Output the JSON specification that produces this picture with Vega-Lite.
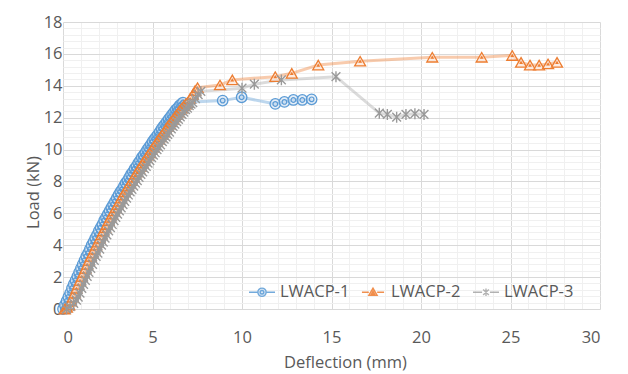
{
  "width": 537,
  "height": 287,
  "autosize": {"type": "none"},
  "padding": {"left": 63, "top": 22, "right": 28, "bottom": 65},
  "background": "white",
  "config": {
    "view": {"stroke": null},
    "font": "Open Sans",
    "axis": {"labelColor": "#595959", "titleColor": "#595959", "labelFontSize": 16.5, "titleFontSize": 16.5, "titleFontWeight": "normal", "ticks": false, "domain": false, "grid": true}
  },
  "data": {"values": [
    {"series":"LWACP-1","deflection":0.0,"load":0},
    {"series":"LWACP-1","deflection":0.1,"load":0.25},
    {"series":"LWACP-1","deflection":0.2,"load":0.5},
    {"series":"LWACP-1","deflection":0.3,"load":0.75},
    {"series":"LWACP-1","deflection":0.4,"load":1.0},
    {"series":"LWACP-1","deflection":0.5,"load":1.3},
    {"series":"LWACP-1","deflection":0.6,"load":1.55},
    {"series":"LWACP-1","deflection":0.7,"load":1.8},
    {"series":"LWACP-1","deflection":0.8,"load":2.05},
    {"series":"LWACP-1","deflection":0.9,"load":2.3},
    {"series":"LWACP-1","deflection":1.0,"load":2.55},
    {"series":"LWACP-1","deflection":1.1,"load":2.8},
    {"series":"LWACP-1","deflection":1.2,"load":3.05},
    {"series":"LWACP-1","deflection":1.3,"load":3.3},
    {"series":"LWACP-1","deflection":1.4,"load":3.5},
    {"series":"LWACP-1","deflection":1.5,"load":3.75},
    {"series":"LWACP-1","deflection":1.6,"load":4.0},
    {"series":"LWACP-1","deflection":1.7,"load":4.2},
    {"series":"LWACP-1","deflection":1.8,"load":4.45},
    {"series":"LWACP-1","deflection":1.9,"load":4.65},
    {"series":"LWACP-1","deflection":2.0,"load":4.9},
    {"series":"LWACP-1","deflection":2.1,"load":5.1},
    {"series":"LWACP-1","deflection":2.2,"load":5.3},
    {"series":"LWACP-1","deflection":2.3,"load":5.55},
    {"series":"LWACP-1","deflection":2.4,"load":5.75},
    {"series":"LWACP-1","deflection":2.5,"load":5.95},
    {"series":"LWACP-1","deflection":2.6,"load":6.15},
    {"series":"LWACP-1","deflection":2.7,"load":6.35},
    {"series":"LWACP-1","deflection":2.8,"load":6.55},
    {"series":"LWACP-1","deflection":2.9,"load":6.75},
    {"series":"LWACP-1","deflection":3.0,"load":6.95},
    {"series":"LWACP-1","deflection":3.1,"load":7.15},
    {"series":"LWACP-1","deflection":3.2,"load":7.35},
    {"series":"LWACP-1","deflection":3.3,"load":7.5},
    {"series":"LWACP-1","deflection":3.4,"load":7.7},
    {"series":"LWACP-1","deflection":3.5,"load":7.9},
    {"series":"LWACP-1","deflection":3.6,"load":8.05},
    {"series":"LWACP-1","deflection":3.7,"load":8.25},
    {"series":"LWACP-1","deflection":3.8,"load":8.45},
    {"series":"LWACP-1","deflection":3.9,"load":8.6},
    {"series":"LWACP-1","deflection":4.0,"load":8.8},
    {"series":"LWACP-1","deflection":4.1,"load":8.95},
    {"series":"LWACP-1","deflection":4.2,"load":9.15},
    {"series":"LWACP-1","deflection":4.3,"load":9.3},
    {"series":"LWACP-1","deflection":4.4,"load":9.5},
    {"series":"LWACP-1","deflection":4.5,"load":9.65},
    {"series":"LWACP-1","deflection":4.6,"load":9.8},
    {"series":"LWACP-1","deflection":4.7,"load":10.0},
    {"series":"LWACP-1","deflection":4.8,"load":10.15},
    {"series":"LWACP-1","deflection":4.9,"load":10.3},
    {"series":"LWACP-1","deflection":5.0,"load":10.5},
    {"series":"LWACP-1","deflection":5.1,"load":10.65},
    {"series":"LWACP-1","deflection":5.2,"load":10.8},
    {"series":"LWACP-1","deflection":5.3,"load":10.95},
    {"series":"LWACP-1","deflection":5.4,"load":11.1},
    {"series":"LWACP-1","deflection":5.5,"load":11.3},
    {"series":"LWACP-1","deflection":5.6,"load":11.45},
    {"series":"LWACP-1","deflection":5.7,"load":11.6},
    {"series":"LWACP-1","deflection":5.8,"load":11.75},
    {"series":"LWACP-1","deflection":5.9,"load":11.9},
    {"series":"LWACP-1","deflection":6.0,"load":12.05},
    {"series":"LWACP-1","deflection":6.1,"load":12.2},
    {"series":"LWACP-1","deflection":6.2,"load":12.35},
    {"series":"LWACP-1","deflection":6.3,"load":12.5},
    {"series":"LWACP-1","deflection":6.4,"load":12.6},
    {"series":"LWACP-1","deflection":6.5,"load":12.75},
    {"series":"LWACP-1","deflection":6.6,"load":12.85},
    {"series":"LWACP-1","deflection":6.7,"load":12.95},
    {"series":"LWACP-1","deflection":8.92,"load":13.07},
    {"series":"LWACP-1","deflection":9.98,"load":13.28},
    {"series":"LWACP-1","deflection":11.86,"load":12.86},
    {"series":"LWACP-1","deflection":12.37,"load":12.99},
    {"series":"LWACP-1","deflection":12.87,"load":13.11},
    {"series":"LWACP-1","deflection":13.37,"load":13.11},
    {"series":"LWACP-1","deflection":13.89,"load":13.15},
    {"series":"LWACP-2","deflection":0.1,"load":0},
    {"series":"LWACP-2","deflection":0.22,"load":0.1},
    {"series":"LWACP-2","deflection":0.35,"load":0.25},
    {"series":"LWACP-2","deflection":0.45,"load":0.5},
    {"series":"LWACP-2","deflection":0.55,"load":0.75},
    {"series":"LWACP-2","deflection":0.65,"load":1.0},
    {"series":"LWACP-2","deflection":0.75,"load":1.3},
    {"series":"LWACP-2","deflection":0.85,"load":1.55},
    {"series":"LWACP-2","deflection":0.95,"load":1.8},
    {"series":"LWACP-2","deflection":1.05,"load":2.05},
    {"series":"LWACP-2","deflection":1.15,"load":2.3},
    {"series":"LWACP-2","deflection":1.25,"load":2.55},
    {"series":"LWACP-2","deflection":1.35,"load":2.8},
    {"series":"LWACP-2","deflection":1.45,"load":3.05},
    {"series":"LWACP-2","deflection":1.55,"load":3.3},
    {"series":"LWACP-2","deflection":1.65,"load":3.5},
    {"series":"LWACP-2","deflection":1.75,"load":3.75},
    {"series":"LWACP-2","deflection":1.85,"load":4.0},
    {"series":"LWACP-2","deflection":1.95,"load":4.2},
    {"series":"LWACP-2","deflection":2.05,"load":4.45},
    {"series":"LWACP-2","deflection":2.15,"load":4.65},
    {"series":"LWACP-2","deflection":2.25,"load":4.9},
    {"series":"LWACP-2","deflection":2.35,"load":5.1},
    {"series":"LWACP-2","deflection":2.45,"load":5.3},
    {"series":"LWACP-2","deflection":2.55,"load":5.55},
    {"series":"LWACP-2","deflection":2.65,"load":5.75},
    {"series":"LWACP-2","deflection":2.75,"load":5.95},
    {"series":"LWACP-2","deflection":2.85,"load":6.15},
    {"series":"LWACP-2","deflection":2.95,"load":6.35},
    {"series":"LWACP-2","deflection":3.05,"load":6.55},
    {"series":"LWACP-2","deflection":3.15,"load":6.75},
    {"series":"LWACP-2","deflection":3.25,"load":6.95},
    {"series":"LWACP-2","deflection":3.35,"load":7.15},
    {"series":"LWACP-2","deflection":3.45,"load":7.35},
    {"series":"LWACP-2","deflection":3.55,"load":7.5},
    {"series":"LWACP-2","deflection":3.65,"load":7.7},
    {"series":"LWACP-2","deflection":3.75,"load":7.9},
    {"series":"LWACP-2","deflection":3.85,"load":8.05},
    {"series":"LWACP-2","deflection":3.95,"load":8.25},
    {"series":"LWACP-2","deflection":4.05,"load":8.45},
    {"series":"LWACP-2","deflection":4.15,"load":8.6},
    {"series":"LWACP-2","deflection":4.25,"load":8.8},
    {"series":"LWACP-2","deflection":4.35,"load":8.95},
    {"series":"LWACP-2","deflection":4.45,"load":9.15},
    {"series":"LWACP-2","deflection":4.55,"load":9.3},
    {"series":"LWACP-2","deflection":4.65,"load":9.5},
    {"series":"LWACP-2","deflection":4.75,"load":9.65},
    {"series":"LWACP-2","deflection":4.85,"load":9.8},
    {"series":"LWACP-2","deflection":4.95,"load":10.0},
    {"series":"LWACP-2","deflection":5.05,"load":10.15},
    {"series":"LWACP-2","deflection":5.15,"load":10.3},
    {"series":"LWACP-2","deflection":5.25,"load":10.5},
    {"series":"LWACP-2","deflection":5.35,"load":10.65},
    {"series":"LWACP-2","deflection":5.45,"load":10.8},
    {"series":"LWACP-2","deflection":5.55,"load":10.95},
    {"series":"LWACP-2","deflection":5.65,"load":11.1},
    {"series":"LWACP-2","deflection":5.75,"load":11.3},
    {"series":"LWACP-2","deflection":5.85,"load":11.45},
    {"series":"LWACP-2","deflection":5.95,"load":11.6},
    {"series":"LWACP-2","deflection":6.05,"load":11.75},
    {"series":"LWACP-2","deflection":6.15,"load":11.9},
    {"series":"LWACP-2","deflection":6.25,"load":12.05},
    {"series":"LWACP-2","deflection":6.35,"load":12.2},
    {"series":"LWACP-2","deflection":6.45,"load":12.35},
    {"series":"LWACP-2","deflection":6.55,"load":12.5},
    {"series":"LWACP-2","deflection":6.65,"load":12.6},
    {"series":"LWACP-2","deflection":6.75,"load":12.75},
    {"series":"LWACP-2","deflection":6.85,"load":12.85},
    {"series":"LWACP-2","deflection":6.95,"load":12.95},
    {"series":"LWACP-2","deflection":7.1,"load":13.2},
    {"series":"LWACP-2","deflection":7.25,"load":13.45},
    {"series":"LWACP-2","deflection":7.38,"load":13.7},
    {"series":"LWACP-2","deflection":7.52,"load":13.88},
    {"series":"LWACP-2","deflection":8.77,"load":14.05},
    {"series":"LWACP-2","deflection":9.46,"load":14.37},
    {"series":"LWACP-2","deflection":11.86,"load":14.57},
    {"series":"LWACP-2","deflection":12.78,"load":14.78},
    {"series":"LWACP-2","deflection":14.26,"load":15.3},
    {"series":"LWACP-2","deflection":16.6,"load":15.54},
    {"series":"LWACP-2","deflection":20.63,"load":15.79},
    {"series":"LWACP-2","deflection":23.39,"load":15.79},
    {"series":"LWACP-2","deflection":25.1,"load":15.9},
    {"series":"LWACP-2","deflection":25.59,"load":15.47},
    {"series":"LWACP-2","deflection":26.09,"load":15.3},
    {"series":"LWACP-2","deflection":26.6,"load":15.3},
    {"series":"LWACP-2","deflection":27.1,"load":15.37},
    {"series":"LWACP-2","deflection":27.6,"load":15.47},
    {"series":"LWACP-3","deflection":0.2,"load":0},
    {"series":"LWACP-3","deflection":0.4,"load":0.15},
    {"series":"LWACP-3","deflection":0.6,"load":0.35},
    {"series":"LWACP-3","deflection":0.75,"load":0.55},
    {"series":"LWACP-3","deflection":0.85,"load":0.75},
    {"series":"LWACP-3","deflection":0.95,"load":1.0},
    {"series":"LWACP-3","deflection":1.05,"load":1.3},
    {"series":"LWACP-3","deflection":1.15,"load":1.55},
    {"series":"LWACP-3","deflection":1.25,"load":1.8},
    {"series":"LWACP-3","deflection":1.35,"load":2.05},
    {"series":"LWACP-3","deflection":1.45,"load":2.3},
    {"series":"LWACP-3","deflection":1.55,"load":2.55},
    {"series":"LWACP-3","deflection":1.65,"load":2.8},
    {"series":"LWACP-3","deflection":1.75,"load":3.05},
    {"series":"LWACP-3","deflection":1.85,"load":3.3},
    {"series":"LWACP-3","deflection":1.95,"load":3.5},
    {"series":"LWACP-3","deflection":2.05,"load":3.75},
    {"series":"LWACP-3","deflection":2.15,"load":4.0},
    {"series":"LWACP-3","deflection":2.25,"load":4.2},
    {"series":"LWACP-3","deflection":2.35,"load":4.45},
    {"series":"LWACP-3","deflection":2.45,"load":4.65},
    {"series":"LWACP-3","deflection":2.55,"load":4.9},
    {"series":"LWACP-3","deflection":2.65,"load":5.1},
    {"series":"LWACP-3","deflection":2.75,"load":5.3},
    {"series":"LWACP-3","deflection":2.85,"load":5.55},
    {"series":"LWACP-3","deflection":2.95,"load":5.75},
    {"series":"LWACP-3","deflection":3.05,"load":5.95},
    {"series":"LWACP-3","deflection":3.15,"load":6.15},
    {"series":"LWACP-3","deflection":3.25,"load":6.35},
    {"series":"LWACP-3","deflection":3.35,"load":6.55},
    {"series":"LWACP-3","deflection":3.45,"load":6.75},
    {"series":"LWACP-3","deflection":3.55,"load":6.95},
    {"series":"LWACP-3","deflection":3.65,"load":7.15},
    {"series":"LWACP-3","deflection":3.75,"load":7.35},
    {"series":"LWACP-3","deflection":3.85,"load":7.5},
    {"series":"LWACP-3","deflection":3.95,"load":7.7},
    {"series":"LWACP-3","deflection":4.05,"load":7.9},
    {"series":"LWACP-3","deflection":4.15,"load":8.05},
    {"series":"LWACP-3","deflection":4.25,"load":8.25},
    {"series":"LWACP-3","deflection":4.35,"load":8.45},
    {"series":"LWACP-3","deflection":4.45,"load":8.6},
    {"series":"LWACP-3","deflection":4.55,"load":8.8},
    {"series":"LWACP-3","deflection":4.65,"load":8.95},
    {"series":"LWACP-3","deflection":4.75,"load":9.15},
    {"series":"LWACP-3","deflection":4.85,"load":9.3},
    {"series":"LWACP-3","deflection":4.95,"load":9.5},
    {"series":"LWACP-3","deflection":5.05,"load":9.65},
    {"series":"LWACP-3","deflection":5.15,"load":9.8},
    {"series":"LWACP-3","deflection":5.25,"load":10.0},
    {"series":"LWACP-3","deflection":5.35,"load":10.15},
    {"series":"LWACP-3","deflection":5.45,"load":10.3},
    {"series":"LWACP-3","deflection":5.55,"load":10.5},
    {"series":"LWACP-3","deflection":5.65,"load":10.65},
    {"series":"LWACP-3","deflection":5.75,"load":10.8},
    {"series":"LWACP-3","deflection":5.85,"load":10.95},
    {"series":"LWACP-3","deflection":5.95,"load":11.1},
    {"series":"LWACP-3","deflection":6.05,"load":11.3},
    {"series":"LWACP-3","deflection":6.15,"load":11.45},
    {"series":"LWACP-3","deflection":6.25,"load":11.6},
    {"series":"LWACP-3","deflection":6.35,"load":11.75},
    {"series":"LWACP-3","deflection":6.45,"load":11.9},
    {"series":"LWACP-3","deflection":6.55,"load":12.05},
    {"series":"LWACP-3","deflection":6.65,"load":12.2},
    {"series":"LWACP-3","deflection":6.75,"load":12.35},
    {"series":"LWACP-3","deflection":6.85,"load":12.5},
    {"series":"LWACP-3","deflection":6.95,"load":12.6},
    {"series":"LWACP-3","deflection":7.05,"load":12.75},
    {"series":"LWACP-3","deflection":7.15,"load":12.85},
    {"series":"LWACP-3","deflection":7.25,"load":12.95},
    {"series":"LWACP-3","deflection":7.4,"load":13.2},
    {"series":"LWACP-3","deflection":7.55,"load":13.45},
    {"series":"LWACP-3","deflection":7.7,"load":13.65},
    {"series":"LWACP-3","deflection":10.0,"load":13.85},
    {"series":"LWACP-3","deflection":10.69,"load":14.1},
    {"series":"LWACP-3","deflection":12.2,"load":14.37},
    {"series":"LWACP-3","deflection":15.25,"load":14.57},
    {"series":"LWACP-3","deflection":17.67,"load":12.28},
    {"series":"LWACP-3","deflection":18.12,"load":12.2},
    {"series":"LWACP-3","deflection":18.64,"load":12.03},
    {"series":"LWACP-3","deflection":19.16,"load":12.2},
    {"series":"LWACP-3","deflection":19.66,"load":12.25},
    {"series":"LWACP-3","deflection":20.17,"load":12.2}
  ]},
  "resolve": {"axis": {"x": "independent", "y": "independent"}},
  "layer": [
    {
      "mark": {"type": "line", "strokeWidth": 3, "strokeOpacity": 0.4, "clip": true},
      "encoding": {
        "x": {"field": "deflection", "type": "quantitative", "scale": {"domain": [0, 30], "nice": false, "zero": false},
          "axis": {"orient": "top", "values": [1,2,3,4,6,7,8,9,11,12,13,14,16,17,18,19,21,22,23,24,26,27,28,29], "grid": true, "gridColor": "#f0f0f0", "labels": false, "ticks": false, "domain": false, "title": null}},
        "y": {"field": "load", "type": "quantitative", "scale": {"domain": [0, 18], "nice": false, "zero": false},
          "axis": {"orient": "right", "values": [0.4,0.8,1.2,1.6,2.4,2.8,3.2,3.6,4.4,4.8,5.2,5.6,6.4,6.8,7.2,7.6,8.4,8.8,9.2,9.6,10.4,10.8,11.2,11.6,12.4,12.8,13.2,13.6,14.4,14.8,15.2,15.6,16.4,16.8,17.2,17.6], "grid": true, "gridColor": "#f0f0f0", "labels": false, "ticks": false, "domain": false, "title": null}},
        "color": {"field": "series", "type": "nominal",
          "scale": {"domain": ["LWACP-1", "LWACP-2", "LWACP-3"], "range": ["#5B9BD5", "#ED7D31", "#A5A5A5"]},
          "legend": {
            "orient": "none", "legendX": 185, "legendY": 256, "direction": "horizontal", "title": null, "padding": 0,
            "symbolSize": 676, "labelFontSize": 16.5, "labelColor": "#595959", "labelOffset": 4, "columnPadding": 9, "symbolStrokeWidth": 1.4,
            "encode": {"symbols": {"update": {
              "shape": {"signal": "datum.value === 'LWACP-1' ? 'M-1,0L-0.34,0M0.34,0L1,0M-0.32,0A0.32,0.32 0 1,0 0.32,0A0.32,0.32 0 1,0 -0.32,0M-0.14,0A0.14,0.14 0 1,0 0.14,0A0.14,0.14 0 1,0 -0.14,0' : datum.value === 'LWACP-2' ? 'M-0.85,0L-0.32,0M0.32,0L0.85,0M0,-0.32L-0.32,0.24L0.32,0.24ZM0,-0.08L-0.11,0.13L0.11,0.13Z' : 'M-1,0L-0.3,0M0.3,0L1,0M-0.22,-0.22L0.22,0.22M-0.22,0.22L0.22,-0.22M0,-0.28L0,0.28'"},
              "stroke": {"signal": "datum.value === 'LWACP-1' ? '#5B9BD5' : datum.value === 'LWACP-2' ? '#ED7D31' : '#A5A5A5'"},
              "fill": {"signal": "datum.value === 'LWACP-1' ? '#dbe8f5' : datum.value === 'LWACP-2' ? '#fbe0cf' : 'transparent'"},
              "opacity": {"value": 1},
              "strokeOpacity": {"value": 0.85}
            }}}
          }}
      }
    },
    {
      "transform": [{"filter": "datum.series === 'LWACP-1'"}],
      "mark": {"type": "point", "shape": "circle", "size": 110, "filled": true, "fill": "#d3e3f3", "fillOpacity": 0.6, "stroke": "#5B9BD5", "strokeWidth": 1.3, "opacity": 1},
      "encoding": {
        "x": {"field": "deflection", "type": "quantitative",
          "axis": {"orient": "bottom", "values": [0,5,10,15,20,25,30], "grid": true, "gridColor": "#d9d9d9", "labelPadding": 20, "title": "Deflection (mm)", "titleX": 282, "titleY": 45}},
        "y": {"field": "load", "type": "quantitative",
          "axis": {"orient": "left", "values": [0,2,4,6,8,10,12,14,16,18], "grid": true, "gridColor": "#d9d9d9", "labelPadding": 1, "title": "Load (kN)", "titleX": -25, "titleY": 170, "titleAngle": 270, "titleBaseline": "alphabetic"}}
      }
    },
    {
      "transform": [{"filter": "datum.series === 'LWACP-1'"}],
      "mark": {"type": "point", "shape": "circle", "size": 22, "filled": false, "color": "#5B9BD5", "strokeWidth": 1.2, "opacity": 1},
      "encoding": {
        "x": {"field": "deflection", "type": "quantitative", "axis": null},
        "y": {"field": "load", "type": "quantitative", "axis": null}
      }
    },
    {
      "transform": [{"filter": "datum.series === 'LWACP-2'"}],
      "mark": {"type": "point", "shape": "triangle-up", "size": 120, "filled": true, "fill": "#fbe0cf", "fillOpacity": 0.6, "stroke": "#ED7D31", "strokeWidth": 1.3, "opacity": 1},
      "encoding": {
        "x": {"field": "deflection", "type": "quantitative", "axis": null},
        "y": {"field": "load", "type": "quantitative", "axis": null}
      }
    },
    {
      "transform": [{"filter": "datum.series === 'LWACP-2'"}],
      "mark": {"type": "point", "shape": "triangle-up", "size": 14, "filled": true, "color": "#ED7D31", "opacity": 1},
      "encoding": {
        "x": {"field": "deflection", "type": "quantitative", "axis": null},
        "y": {"field": "load", "type": "quantitative", "axis": null}
      }
    },
    {
      "transform": [{"filter": "datum.series === 'LWACP-3'"}],
      "mark": {"type": "point", "shape": "M-0.8,-0.8L0.8,0.8M-0.8,0.8L0.8,-0.8M0,-1L0,1", "size": 120, "filled": false, "color": "#9a9a9a", "strokeWidth": 1.4, "opacity": 1},
      "encoding": {
        "x": {"field": "deflection", "type": "quantitative", "axis": null},
        "y": {"field": "load", "type": "quantitative", "axis": null}
      }
    }
  ]
}
